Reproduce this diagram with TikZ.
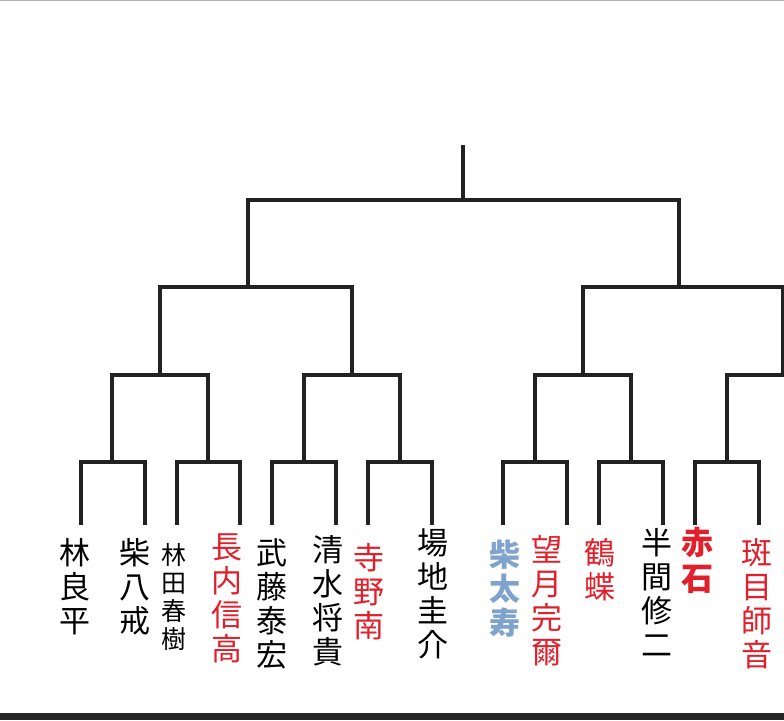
\documentclass[tikz,border=0pt]{standalone}
\usepackage{fontspec}
\newfontfamily\jp{Noto Sans CJK JP}
\definecolor{ln}{HTML}{222222}
\definecolor{rd}{HTML}{E0202A}
\definecolor{bl}{HTML}{7FA3CC}
\begin{document}
\begin{tikzpicture}[x=1pt,y=-1pt,
  br/.style={draw=ln,line width=3.2pt},
  nm/.style={anchor=north,align=center,inner sep=0pt,font=\jp\fontsize{31}{34}\selectfont},
  sm/.style={anchor=north,align=center,inner sep=0pt,font=\jp\fontsize{25}{28}\selectfont}]
\useasboundingbox (0,0) rectangle (784,720);
\fill[white] (0,0) rectangle (784,720);
\draw[gray!60,line width=1pt] (0,0.5) -- (784,0.5);
\fill[black!85] (0,713) rectangle (784,720);
\coordinate (top) at (463,145);
\foreach \n/\x in {a/81,b/145,c/177,d/240,e/272,f/336,g/368,h/432,i/503,j/567,k/599,l/663,m/695,n/759}{
  \coordinate (\n) at (\x,525);}
\draw[br] (top) -- (463,200);
\draw[br] (248,287) -- (248,200) -- (679,200) -- (679,287);
\draw[br] (160,375) -- (160,287) -- (352,287) -- (352,375);
\draw[br] (583,375) -- (583,287) -- (790,287);
\draw[br] (783,287) -- (783,375);
\draw[br] (112,462) -- (112,375) -- (208,375) -- (208,462);
\draw[br] (304,462) -- (304,375) -- (400,375) -- (400,462);
\draw[br] (535,462) -- (535,375) -- (631,375) -- (631,462);
\draw[br] (727,462) -- (727,375) -- (790,375);
\foreach \p/\q/\c in {a/b/112,c/d/208,e/f/304,g/h/400,i/j/535,k/l/631,m/n/727}{
  \draw[br] (\p) |- (\c,462) -| (\q);}
\node[nm] (t1) at (75,538) {林\\良\\平};
\node[nm] (t2) at (135,538) {柴\\八\\戒};
\node[sm] (t3) at (174,543) {林\\田\\春\\樹};
\node[nm,text=rd] (t4) at (227,533) {長\\内\\信\\高};
\node[nm] (t5) at (272,538) {武\\藤\\泰\\宏};
\node[nm] (t6) at (328,535) {清\\水\\将\\貴};
\node[nm,text=rd] (t7) at (369,543) {寺\\野\\南};
\node[nm] (t8) at (433,528) {場\\地\\圭\\介};
\node[nm,text=bl,font=\jp\bfseries\fontsize{31}{34}\selectfont] (t9) at (505,540) {柴\\太\\寿};
\node[nm,text=rd] (t10) at (547,535) {望\\月\\完\\爾};
\node[nm,text=rd] (t11) at (600,538) {鶴\\蝶};
\node[nm] (t12) at (657,528) {半\\間\\修\\二};
\node[nm,text=rd,font=\jp\bfseries\fontsize{32}{36}\selectfont] (t13) at (697,527) {赤\\石};
\node[nm,text=rd] (t14) at (757,538) {斑\\目\\師\\音};
\end{tikzpicture}
\end{document}
